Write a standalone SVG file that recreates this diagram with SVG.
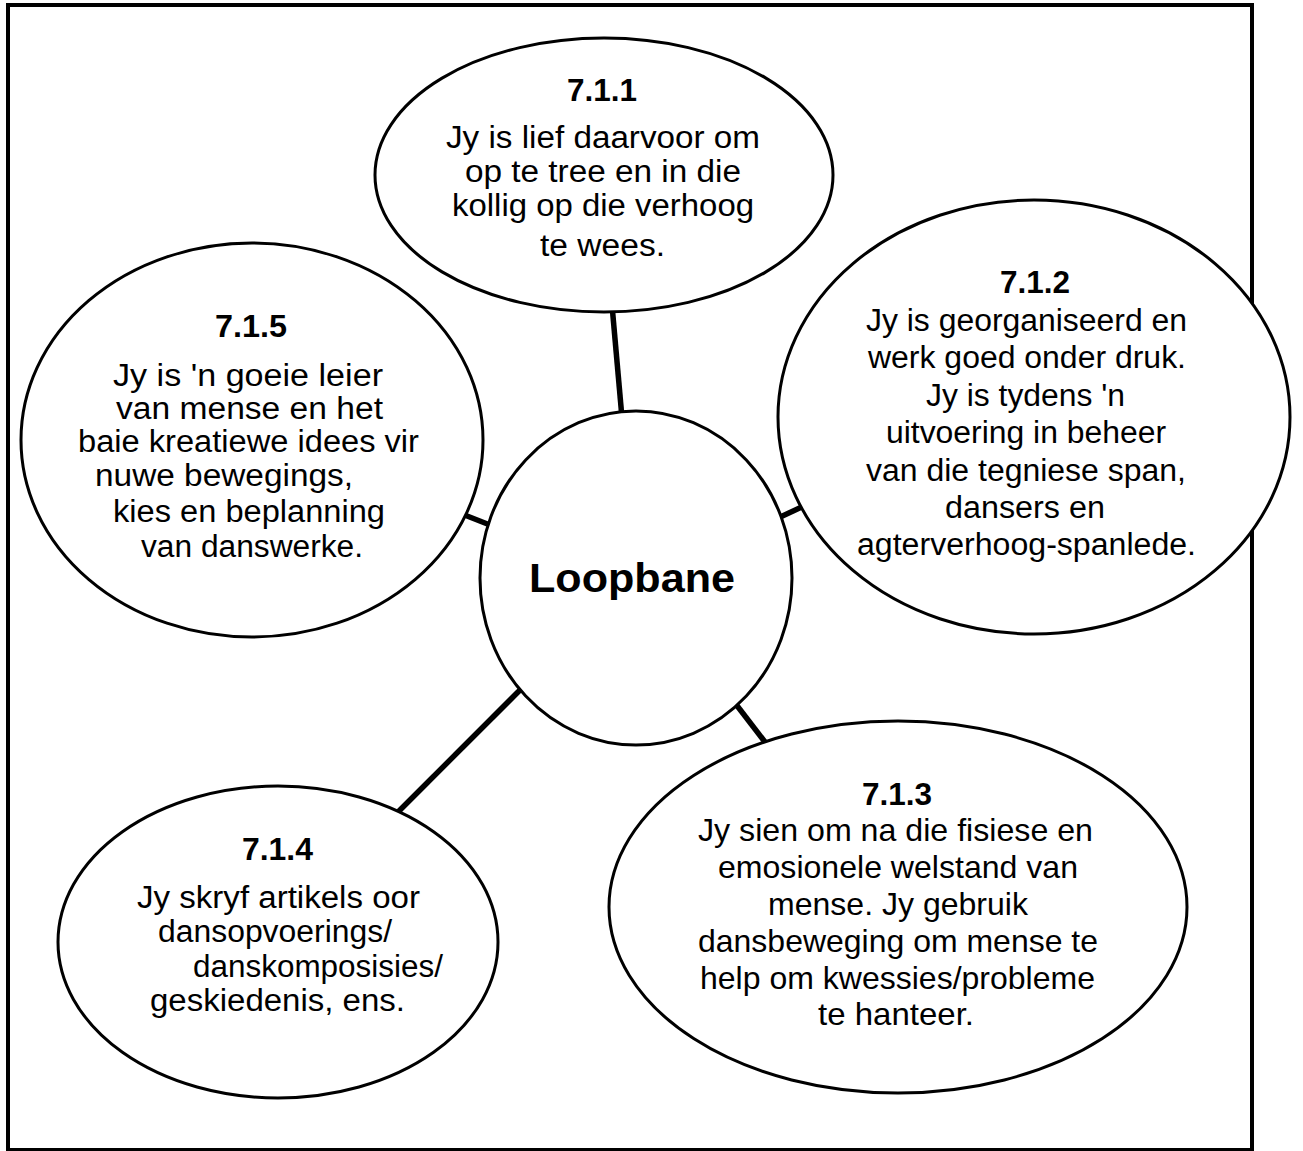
<svg xmlns="http://www.w3.org/2000/svg" width="1303" height="1151" viewBox="0 0 1303 1151">
<style>
.frame{fill:none;stroke:#000;stroke-width:4}
.node{fill:#fff;stroke:#000;stroke-width:3}
.conn{stroke:#000;stroke-width:5.5;stroke-linecap:butt;fill:none}
.t{font-family:"Liberation Sans",Arial,sans-serif;font-size:31px;fill:#000}
.t3{font-family:"Liberation Sans",Arial,sans-serif;font-size:32px;fill:#000}
.h{font-family:"Liberation Sans",Arial,sans-serif;font-size:31px;font-weight:bold;fill:#000}
.c{font-family:"Liberation Sans",Arial,sans-serif;font-size:41px;font-weight:bold;fill:#000}
</style>
<rect width="1303" height="1151" fill="#fff"/>
<rect class="frame" x="8" y="5" width="1244" height="1145"/>
<g id="connectors">
<line class="conn" x1="612" y1="305" x2="622" y2="418"/>
<line class="conn" x1="462" y1="514" x2="490" y2="525"/>
<line class="conn" x1="776" y1="519" x2="806" y2="505"/>
<line class="conn" x1="398" y1="812" x2="522" y2="688"/>
<line class="conn" x1="735" y1="703" x2="765" y2="742"/>
</g>
<g id="node-711">
<ellipse class="node" cx="604" cy="175" rx="229" ry="137"/>
<text class="h" x="567" y="101" textLength="70" lengthAdjust="spacingAndGlyphs">7.1.1</text>
<text class="t" x="446" y="148" textLength="314" lengthAdjust="spacingAndGlyphs">Jy is lief daarvoor om</text>
<text class="t" x="465" y="182" textLength="276" lengthAdjust="spacingAndGlyphs">op te tree en in die</text>
<text class="t" x="452" y="216" textLength="302" lengthAdjust="spacingAndGlyphs">kollig op die verhoog</text>
<text class="t" x="540" y="256" textLength="125" lengthAdjust="spacingAndGlyphs">te wees.</text>
</g>
<g id="node-712">
<ellipse class="node" cx="1034" cy="417" rx="256" ry="217"/>
<text class="h" x="1000" y="293" textLength="70" lengthAdjust="spacingAndGlyphs">7.1.2</text>
<text class="t" x="866" y="331" textLength="321" lengthAdjust="spacingAndGlyphs">Jy is georganiseerd en</text>
<text class="t" x="868" y="368" textLength="318" lengthAdjust="spacingAndGlyphs">werk goed onder druk.</text>
<text class="t" x="926" y="406" textLength="199" lengthAdjust="spacingAndGlyphs">Jy is tydens 'n</text>
<text class="t" x="886" y="443" textLength="280" lengthAdjust="spacingAndGlyphs">uitvoering in beheer</text>
<text class="t" x="866" y="481" textLength="320" lengthAdjust="spacingAndGlyphs">van die tegniese span,</text>
<text class="t" x="945" y="518" textLength="160" lengthAdjust="spacingAndGlyphs">dansers en</text>
<text class="t" x="857" y="555" textLength="339" lengthAdjust="spacingAndGlyphs">agterverhoog-spanlede.</text>
</g>
<g id="node-713">
<ellipse class="node" cx="898" cy="907" rx="289" ry="186"/>
<text class="h" x="862" y="805" textLength="70" lengthAdjust="spacingAndGlyphs">7.1.3</text>
<text class="t3" x="698" y="841" textLength="395" lengthAdjust="spacingAndGlyphs">Jy sien om na die fisiese en</text>
<text class="t3" x="718" y="878" textLength="360" lengthAdjust="spacingAndGlyphs">emosionele welstand van</text>
<text class="t3" x="768" y="915" textLength="260" lengthAdjust="spacingAndGlyphs">mense. Jy gebruik</text>
<text class="t3" x="698" y="952" textLength="400" lengthAdjust="spacingAndGlyphs">dansbeweging om mense te</text>
<text class="t3" x="700" y="989" textLength="395" lengthAdjust="spacingAndGlyphs">help om kwessies/probleme</text>
<text class="t3" x="818" y="1025" textLength="156" lengthAdjust="spacingAndGlyphs">te hanteer.</text>
</g>
<g id="node-714">
<ellipse class="node" cx="278" cy="942" rx="220" ry="156"/>
<text class="h" x="242" y="860" textLength="71" lengthAdjust="spacingAndGlyphs">7.1.4</text>
<text class="t" x="137" y="908" textLength="283" lengthAdjust="spacingAndGlyphs">Jy skryf artikels oor</text>
<text class="t" x="158" y="942" textLength="234" lengthAdjust="spacingAndGlyphs">dansopvoerings/</text>
<text class="t" x="193" y="977" textLength="250" lengthAdjust="spacingAndGlyphs">danskomposisies/</text>
<text class="t" x="150" y="1011" textLength="255" lengthAdjust="spacingAndGlyphs">geskiedenis, ens.</text>
</g>
<g id="node-715">
<ellipse class="node" cx="252" cy="440" rx="231" ry="197"/>
<text class="h" x="215" y="337" textLength="72" lengthAdjust="spacingAndGlyphs">7.1.5</text>
<text class="t" x="113" y="386" textLength="270" lengthAdjust="spacingAndGlyphs">Jy is 'n goeie leier</text>
<text class="t" x="116" y="419" textLength="267" lengthAdjust="spacingAndGlyphs">van mense en het</text>
<text class="t" x="78" y="452" textLength="341" lengthAdjust="spacingAndGlyphs">baie kreatiewe idees vir</text>
<text class="t" x="95" y="486" textLength="258" lengthAdjust="spacingAndGlyphs">nuwe bewegings,</text>
<text class="t" x="113" y="522" textLength="272" lengthAdjust="spacingAndGlyphs">kies en beplanning</text>
<text class="t" x="141" y="557" textLength="222" lengthAdjust="spacingAndGlyphs">van danswerke.</text>
</g>
<g id="node-center">
<ellipse class="node" cx="636" cy="578" rx="156" ry="167"/>
<text class="c" x="529" y="592" textLength="206" lengthAdjust="spacingAndGlyphs">Loopbane</text>
</g>
</svg>
